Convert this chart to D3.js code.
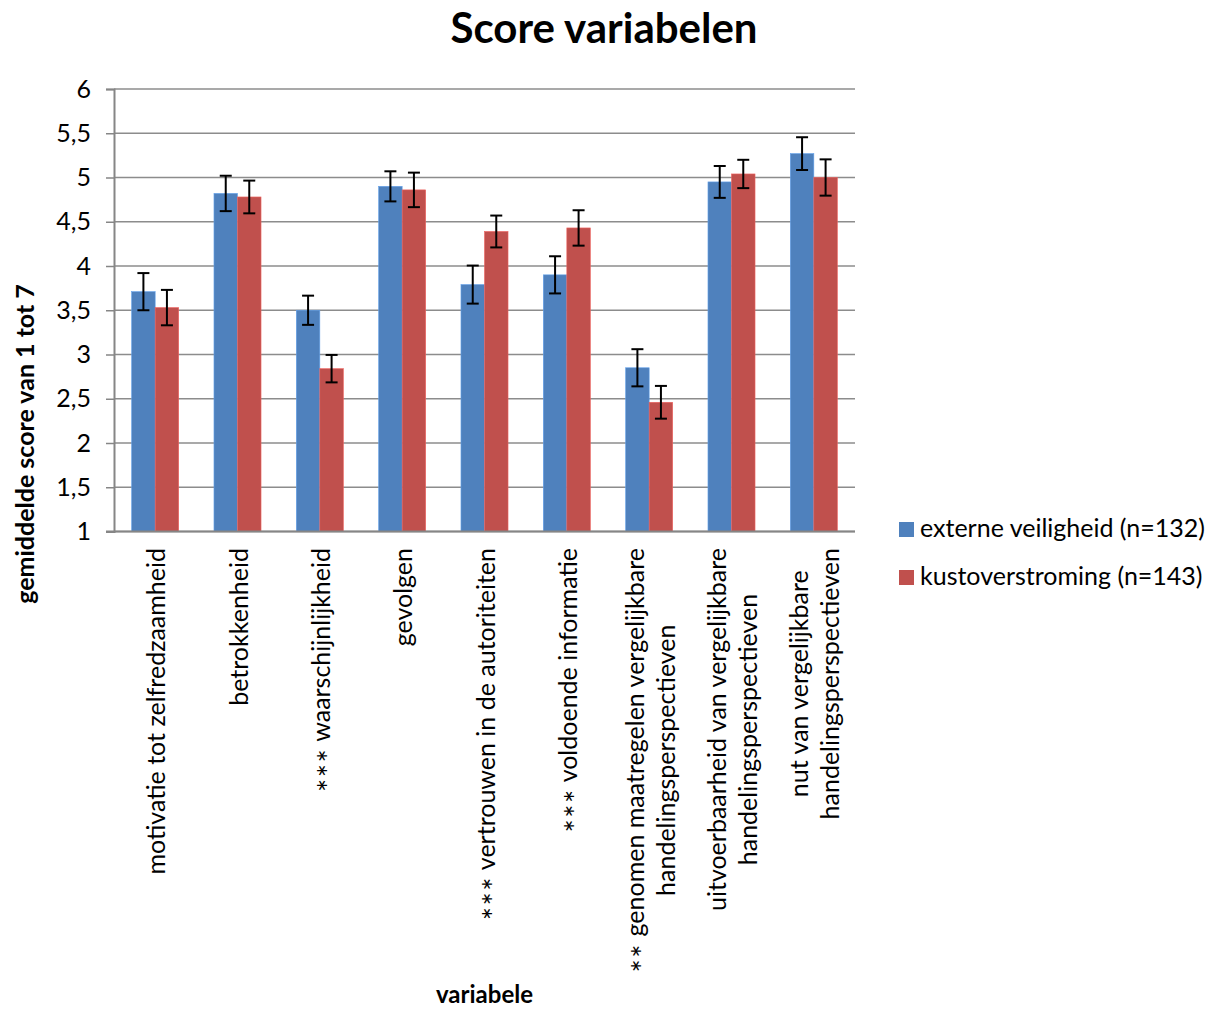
<!DOCTYPE html>
<html>
<head>
<meta charset="utf-8">
<script src="https://cdn.jsdelivr.net/npm/d3@7"></script>
<style>
  html, body { margin: 0; padding: 0; background: #fff; }
  svg { display: block; }
  text { font-family: Lato, "Open Sans", sans-serif; fill: #000; }
</style>
</head>
<body>
<svg id="chart" width="1208" height="1009"></svg>
<script>
// ---- data ----
const categories = [
  ["motivatie tot zelfredzaamheid"],
  ["betrokkenheid"],
  ["*** waarschijnlijkheid"],
  ["gevolgen"],
  ["*** vertrouwen in de autoriteiten"],
  ["*** voldoende informatie"],
  ["** genomen maatregelen vergelijkbare", "handelingsperspectieven"],
  ["uitvoerbaarheid van vergelijkbare", "handelingsperspectieven"],
  ["nut van vergelijkbare", "handelingsperspectieven"]
];
const seriesNames = ["externe veiligheid (n=132)", "kustoverstroming (n=143)"];
const externeValues = [3.71, 4.82, 3.50, 4.90, 3.79, 3.90, 2.85, 4.95, 5.27];
const kustValues    = [3.53, 4.78, 2.84, 4.86, 4.39, 4.43, 2.46, 5.04, 5.00];
const externeErr    = [0.21, 0.20, 0.165, 0.17, 0.215, 0.21, 0.21, 0.18, 0.185];
const kustErr       = [0.20, 0.185, 0.155, 0.195, 0.18, 0.20, 0.185, 0.16, 0.205];
const yTicks = [1, 1.5, 2, 2.5, 3, 3.5, 4, 4.5, 5, 5.5, 6];
const seriesColors = ["#4F81BD", "#C0504D"];

// ---- layout ----
const svg = d3.select("#chart");
const plot = { left: 114, right: 855, top: 89, bottom: 531.5 };
const fontSize = 25;

const y = d3.scaleLinear().domain([1, 6]).range([plot.bottom, plot.top]);
const x0 = d3.scaleBand()
  .domain(d3.range(categories.length))
  .range([plot.left, plot.right])
  .paddingInner(0.4286)
  .paddingOuter(0.2143);
const x1 = d3.scaleBand().domain([0, 1]).range([0, x0.bandwidth()]);

const fmt = v => String(v).replace(".", ",");

// gridlines
svg.append("g")
  .selectAll("line")
  .data(yTicks)
  .join("line")
  .attr("x1", plot.left).attr("x2", plot.right)
  .attr("y1", d => y(d)).attr("y2", d => y(d))
  .attr("stroke", "#8c8c8c").attr("stroke-width", 1.5);

// y axis
const yAxis = d3.axisLeft(y).tickValues(yTicks).tickFormat(fmt).tickSize(8).tickPadding(15);
const gy = svg.append("g").attr("transform", `translate(${plot.left},0)`).call(yAxis);
gy.select(".domain").attr("stroke", "#868686").attr("stroke-width", 2);
gy.selectAll(".tick line").attr("stroke", "#868686").attr("stroke-width", 1.5);
gy.selectAll(".tick text")
  .attr("font-size", fontSize)
  .style("font-family", "Lato, 'Open Sans', sans-serif")
  .attr("fill", "#000");

// bars
const series = [
  { values: externeValues, err: externeErr },
  { values: kustValues, err: kustErr }
];
const groups = svg.append("g").selectAll("g")
  .data(categories.map((c, i) => i))
  .join("g")
  .attr("transform", i => `translate(${x0(i)},0)`);

series.forEach((s, si) => {
  groups.append("rect")
    .attr("x", x1(si))
    .attr("width", x1.bandwidth())
    .attr("y", i => y(s.values[i]))
    .attr("height", i => y(1) - y(s.values[i]))
    .attr("fill", seriesColors[si])
    .attr("stroke", d3.color(seriesColors[si]).brighter(0.6))
    .attr("stroke-width", 0.6);
});

// x axis line (drawn over bars)
svg.append("line")
  .attr("x1", plot.left - 8).attr("x2", plot.right)
  .attr("y1", y(1)).attr("y2", y(1))
  .attr("stroke", "#868686").attr("stroke-width", 2);

// error bars
const capW = 12;
series.forEach((s, si) => {
  const g = groups.append("g").attr("stroke", "#000").attr("stroke-width", 2);
  const cx = x1(si) + x1.bandwidth() / 2;
  g.append("line")
    .attr("x1", cx).attr("x2", cx)
    .attr("y1", i => y(s.values[i] + s.err[i]))
    .attr("y2", i => y(s.values[i] - s.err[i]));
  g.append("line")
    .attr("x1", cx - capW / 2).attr("x2", cx + capW / 2)
    .attr("y1", i => y(s.values[i] + s.err[i]))
    .attr("y2", i => y(s.values[i] + s.err[i]));
  g.append("line")
    .attr("x1", cx - capW / 2).attr("x2", cx + capW / 2)
    .attr("y1", i => y(s.values[i] - s.err[i]))
    .attr("y2", i => y(s.values[i] - s.err[i]));
});

// category labels (rotated)
const labelTop = 548;
const lineGap = 31;
categories.forEach((lines, i) => {
  const cx = x0(i) + x0.bandwidth() / 2;
  const texts = lines.map((ln, li) => {
    const lx = cx + (li - (lines.length - 1) / 2) * lineGap;
    const t = svg.append("text")
      .attr("transform", `translate(${lx},${labelTop}) rotate(-90)`)
      .attr("font-size", fontSize)
      .attr("dominant-baseline", "central");
    const m = ln.match(/^(\*+)(.*)$/);
    if (m) {
      t.append("tspan")
        .attr("font-size", fontSize * 1.25)
        .attr("baseline-shift", "-0.25em")
        .attr("letter-spacing", 1.5)
        .text(m[1]);
      t.append("tspan").attr("baseline-shift", "0").text(m[2]);
    } else {
      t.text(ln);
    }
    return t;
  });
  const maxW = d3.max(texts, t => t.node().getComputedTextLength());
  texts.forEach((t, li) => {
    const lx = cx + (li - (lines.length - 1) / 2) * lineGap;
    t.attr("text-anchor", "middle")
     .attr("transform", `translate(${lx},${labelTop + maxW / 2}) rotate(-90)`);
  });
});

// title
svg.append("text")
  .attr("x", 604).attr("y", 43)
  .attr("text-anchor", "middle")
  .attr("font-size", 42)
  .attr("font-weight", "bold")
  .text("Score variabelen");

// axis titles
svg.append("text")
  .attr("transform", "translate(24,444) rotate(-90)")
  .attr("text-anchor", "middle")
  .attr("dominant-baseline", "central")
  .attr("font-size", fontSize)
  .attr("font-weight", "bold")
  .text("gemiddelde score van 1 tot 7");

svg.append("text")
  .attr("x", 484.5).attr("y", 1003)
  .attr("text-anchor", "middle")
  .attr("font-size", 24)
  .attr("font-weight", "bold")
  .text("variabele");

// legend
const legend = svg.append("g").selectAll("g")
  .data(seriesNames)
  .join("g")
  .attr("transform", (d, i) => `translate(899,${522 + i * 48})`);
legend.append("rect")
  .attr("width", 15).attr("height", 15)
  .attr("fill", (d, i) => seriesColors[i]);
legend.append("text")
  .attr("x", 21).attr("y", 15)
  .attr("font-size", fontSize)
  .text(d => d);
</script>
</body>
</html>
